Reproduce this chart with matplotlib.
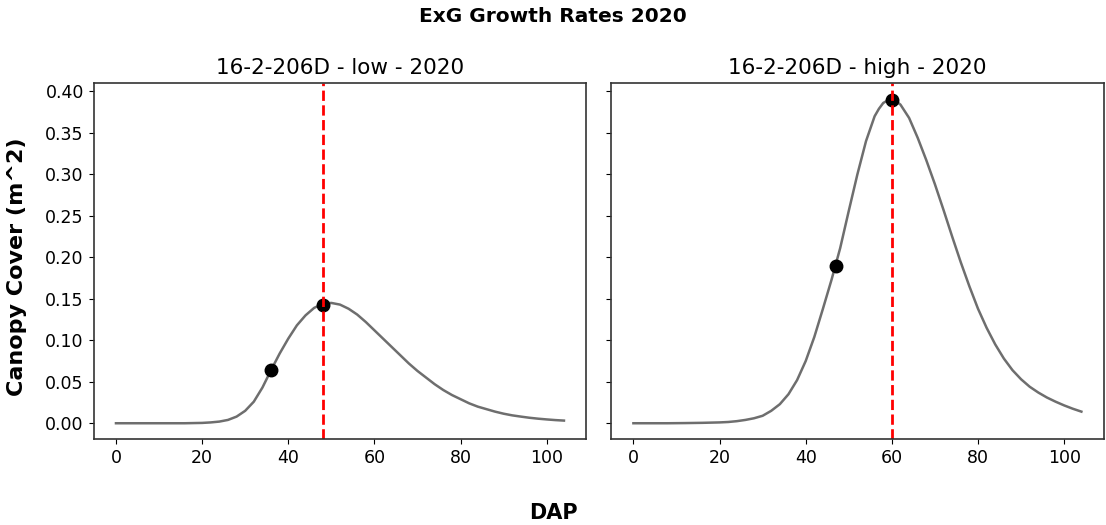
import numpy as np
import matplotlib.pyplot as plt

# growth rate curves (DAP vs canopy cover)
dap_low = [0, 4, 8, 12, 16, 18, 20, 22, 24, 26, 28, 30, 32, 34, 36, 38, 40, 42,
           44, 46, 48, 50, 52, 54, 56, 58, 60, 62, 64, 66, 68, 70, 72, 74, 76,
           78, 80, 82, 84, 86, 88, 90, 92, 94, 96, 98, 100, 102, 104]
cc_low = [0.0, 0.0, 0.0, 0.0, 0.0, 0.0002, 0.0004, 0.001, 0.002, 0.004, 0.008,
          0.015, 0.026, 0.043, 0.064, 0.084, 0.102, 0.118, 0.130, 0.139, 0.144,
          0.145, 0.143, 0.138, 0.131, 0.122, 0.112, 0.102, 0.092, 0.082, 0.072,
          0.063, 0.055, 0.047, 0.040, 0.034, 0.029, 0.024, 0.020, 0.017, 0.014,
          0.0115, 0.0095, 0.008, 0.0066, 0.0055, 0.0046, 0.0038, 0.0032]

dap_high = [0, 4, 8, 12, 16, 20, 22, 24, 26, 28, 30, 32, 34, 36, 38, 40, 42, 44,
            46, 48, 50, 52, 54, 56, 57, 58, 59, 60, 61, 62, 64, 66, 68, 70, 72,
            74, 76, 78, 80, 82, 84, 86, 88, 90, 92, 94, 96, 98, 100, 102, 104]
cc_high = [0.0, 0.0, 0.0, 0.0002, 0.0005, 0.001, 0.0015, 0.0025, 0.004, 0.006,
           0.009, 0.015, 0.023, 0.035, 0.052, 0.075, 0.104, 0.138, 0.173, 0.211,
           0.256, 0.300, 0.340, 0.370, 0.379, 0.386, 0.389, 0.390, 0.388, 0.384,
           0.368, 0.344, 0.317, 0.288, 0.257, 0.225, 0.194, 0.165, 0.138, 0.115,
           0.095, 0.078, 0.064, 0.053, 0.044, 0.037, 0.031, 0.026, 0.0215,
           0.0175, 0.014]

# marked points (black dots) and peak day (red line)
pts_low_x = [36, 48]
pts_low_y = [0.064, 0.143]
pts_high_x = [47, 60]
pts_high_y = [0.190, 0.389]
peak_low = 48
peak_high = 60

titles = ['16-2-206D - low - 2020', '16-2-206D - high - 2020']

fig, axes = plt.subplots(1, 2, sharey=True, figsize=(11.06, 5.25), dpi=100)
fig.subplots_adjust(left=0.0846, right=0.998, bottom=0.163, top=0.841, wspace=0.05)

data = [(dap_low, cc_low, pts_low_x, pts_low_y, peak_low),
        (dap_high, cc_high, pts_high_x, pts_high_y, peak_high)]

for ax, (x, y, px, py, pk), title in zip(axes, data, titles):
    ax.plot(x, y, color='#6e6e6e', linewidth=1.8, solid_joinstyle='round')
    ax.plot(px, py, 'o', color='black', markersize=9)
    ax.axvline(pk, color='red', linestyle='--', linewidth=2)
    ax.set_title(title, fontsize=15.5, pad=7)
    ax.tick_params(labelsize=12.5)
    ax.set_xticks([0, 20, 40, 60, 80, 100])
    for s in ax.spines.values():
        s.set_linewidth(1.2)
        s.set_color('#333333')

axes[0].set_yticks(np.arange(0, 0.41, 0.05))

fig.suptitle('ExG Growth Rates 2020', fontsize=14.5, fontweight='bold', y=0.968, va='center')
fig.text(0.015, 0.492, 'Canopy Cover (m^2)', rotation=90, fontsize=16,
         fontweight='bold', ha='center', va='center')
fig.text(0.5, 0.023, 'DAP', fontsize=15, fontweight='bold', ha='center', va='center')

plt.savefig('out.png')
